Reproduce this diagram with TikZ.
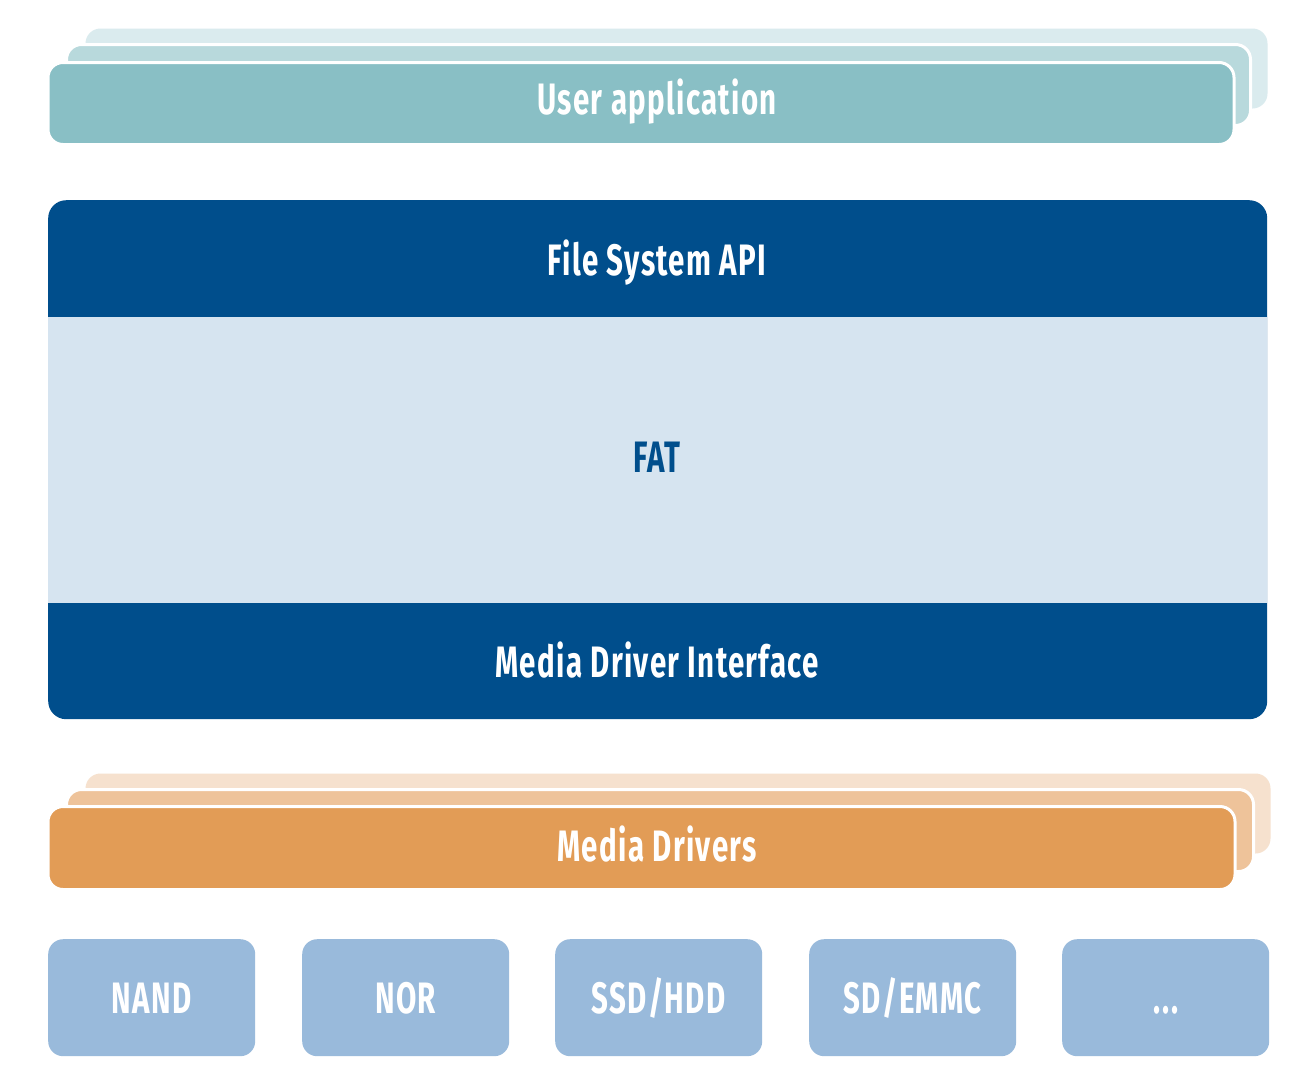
\documentclass[tikz,border=0pt]{standalone}
\usepackage{fontspec}
\newfontfamily\din[FakeStretch=0.67,LetterSpace=3]{Fira Sans}
\definecolor{tealA}{HTML}{89BFC5}
\definecolor{tealB}{HTML}{B8D9DC}
\definecolor{tealC}{HTML}{DAEBEE}
\definecolor{orA}{HTML}{E29C56}
\definecolor{orB}{HTML}{EEC39A}
\definecolor{orC}{HTML}{F6E1CE}
\definecolor{darkblue}{HTML}{004E8C}
\definecolor{lightblue}{HTML}{D6E4F0}
\definecolor{boxblue}{HTML}{99BADB}
\tikzset{
  layer/.style={draw=white, line width=3pt, rounded corners=15pt, anchor=north west, inner sep=0pt},
  lbl/.style={font=\din\bfseries\fontsize{44}{50}\selectfont, text=white, inner sep=0pt, text height=31pt, text depth=0pt},
  dev/.style={fill=boxblue, rounded corners=15pt, anchor=north west, inner sep=0pt, minimum width=207pt, minimum height=117pt, font=\din\bfseries\fontsize{44}{50}\selectfont, text=white, text height=31pt, text depth=0pt},
}
\begin{document}
\begin{tikzpicture}[x=1pt,y=-1pt]
\fill[white] (0,0) rectangle (1308,1080);
\useasboundingbox (0,0) rectangle (1308,1080);
% top stack
\node[layer, fill=tealC, draw=none, minimum width=1182pt, minimum height=80pt] (ua3) at (84,27) {};
\node[layer, fill=tealB, minimum width=1184pt, minimum height=81pt] (ua2) at (65,43) {};
\node[layer, fill=tealA, minimum width=1186pt, minimum height=82pt] (ua1) at (46.5,61) {};
\node[lbl] (ua) at (657,98.5) {User application};
% main block
\node[fill=darkblue, rounded corners=18pt, anchor=north west, inner sep=0pt, minimum width=1219pt, minimum height=519pt] (core) at (48,200) {};
\node[fill=lightblue, anchor=north west, inner sep=0pt, minimum width=1219pt, minimum height=286pt] (fatband) at (48,317) {};
\node[lbl] (api) at (657,260) {File System API};
\node[lbl, text=darkblue] (fat) at (657,457) {FAT};
\node[lbl] (mdi) at (657,661.5) {Media Driver Interface};
% bottom stack
\node[layer, fill=orC, draw=none, minimum width=1185pt, minimum height=80pt] (md3) at (84,772) {};
\node[layer, fill=orB, minimum width=1187pt, minimum height=82pt] (md2) at (65,788) {};
\node[layer, fill=orA, minimum width=1187pt, minimum height=83pt] (md1) at (46.5,805) {};
\node[lbl] (md) at (657,846) {Media Drivers};
% devices
\node[dev] (nand) at (48,939) {NAND};
\node[dev] (nor) at (302,939) {NOR};
\node[dev] (ssd) at (555,939) {SSD/HDD};
\node[dev] (sd) at (809,939) {SD/EMMC};
\node[dev] (etc) at (1062,939) {.\kern2pt.\kern2pt.};
\end{tikzpicture}
\end{document}
